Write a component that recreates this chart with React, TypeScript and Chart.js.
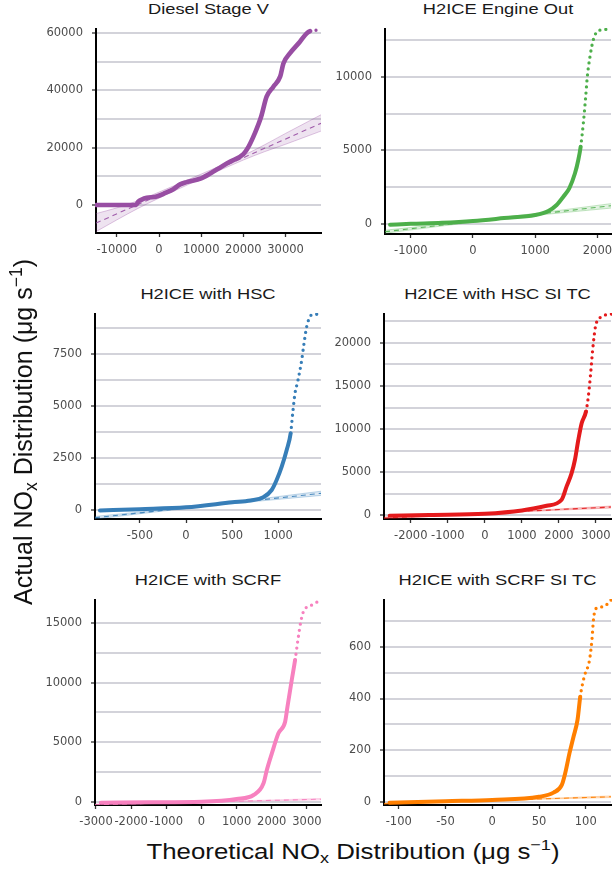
import React, { useEffect, useRef } from 'react';
import { Chart, registerables } from 'chart.js';
Chart.register(...registerables);

// ---------- data ----------
const panelTitles = ['Diesel Stage V', 'H2ICE Engine Out', 'H2ICE with HSC', 'H2ICE with HSC SI TC', 'H2ICE with SCRF', 'H2ICE with SCRF SI TC'];
const seriesColors = ['#984ea3', '#4daf4a', '#377eb8', '#e41a1c', '#f781bf', '#ff7f00'];

// Diesel Stage V
const dieselTheo = [-14900, -12000, -8000, -5400, -4900, -4100, -2900, -550, 1500, 3400, 5000, 6500, 10000, 12900, 16800, 20000, 21200, 22700, 24200, 25500, 27100, 28700, 29500, 31000, 33400, 35000, 35800, 37200, 38500];
const dieselActual = [0, 0, 0, 50, 1200, 1900, 2500, 3000, 4200, 5500, 7200, 8000, 9300, 11700, 15100, 17800, 20300, 25000, 30800, 37800, 41300, 44800, 49500, 52900, 57000, 59900, 60700, 61000, 61300];
const dieselRefX = [-14930, 38390];
const dieselRefY = [-6300, 28520];
const dieselBandX = [-14930, -10000, -5000, 0, 10000, 20000, 25000, 30000, 38390];
const dieselBandLo = [-9300, -5200, -1200, 2400, 9200, 15700, 18600, 21200, 25800];
const dieselBandHi = [-3000, -1000, 1500, 4500, 10800, 17300, 21000, 25000, 31500];

// H2ICE Engine Out
const engineTheo = [-1334, -1000, -500, 0, 500, 1000, 1211, 1345, 1452, 1548, 1640, 1693, 1731, 1774, 1812, 1838, 1881, 1934, 2015, 2203];
const engineActual = [-30, 30, 100, 223, 420, 630, 900, 1310, 1870, 2440, 3455, 4357, 5260, 6840, 8645, 10000, 11355, 12490, 13120, 13210];
const engineRefX = [-1415, 2219];
const engineRefY = [-500, 1260];
const engineBandX = [-1415, 400, 2219];
const engineBandLo = [-600, 340, 1100];
const engineBandHi = [-400, 420, 1400];

// H2ICE with HSC
const hscTheo = [-933, -500, 0, 500, 700, 838, 929, 983, 1038, 1092, 1135, 1157, 1182, 1211, 1255, 1280, 1309, 1363, 1471];
const hscActual = [-20, 40, 128, 368, 460, 608, 960, 1440, 2080, 2880, 3680, 4640, 5600, 6160, 7200, 8000, 8800, 9360, 9400];
const hscRefX = [-987, 1464];
const hscRefY = [-370, 800];
const hscBandX = [-987, 250, 1464];
const hscBandLo = [-430, 195, 700];
const hscBandHi = [-310, 245, 900];

// H2ICE with HSC SI TC
const hscSiTheo = [-2568, -1500, 0, 1000, 1667, 2072, 2207, 2342, 2432, 2523, 2613, 2730, 2793, 2856, 2910, 2991, 3153, 3423];
const hscSiActual = [-35, 60, 197, 580, 1120, 1815, 3360, 4900, 6450, 8760, 10690, 12040, 13770, 16480, 19180, 21990, 23030, 23345];
const hscSiRefX = [-2722, 3405];
const hscSiRefY = [-300, 970];
const hscSiBandX = [-2722, 300, 3405];
const hscSiBandLo = [-420, 290, 860];
const hscSiBandHi = [-180, 360, 1080];

// H2ICE with SCRF
const scrfTheo = [-2863, -1500, 0, 1000, 1483, 1766, 1860, 2003, 2190, 2381, 2447, 2569, 2664, 2758, 2826, 2900, 3138, 3400];
const scrfActual = [-30, 0, 50, 275, 610, 1585, 2700, 4090, 5760, 6730, 7980, 10210, 11880, 13830, 15080, 15910, 16470, 16890];
const scrfRefX = [-3030, 3400];
const scrfRefY = [-200, 260];
const scrfBandX = [-3030, 200, 3400];
const scrfBandLo = [-260, 20, 200];
const scrfBandHi = [-140, 45, 320];

// H2ICE with SCRF SI TC
const scrfSiTheo = [-109.8, -50, 0, 50, 65.5, 74.4, 78, 82.6, 86.9, 91.2, 94.1, 98.4, 104, 106.6, 108.4, 111.3, 119.1, 127];
const scrfSiActual = [-4, 2, 6.6, 19, 35, 65, 110, 188, 252, 317, 407, 485, 549, 627, 711, 750, 756, 782];
const scrfSiRefX = [-115.8, 127];
const scrfSiRefY = [-8, 19];
const scrfSiBandX = [-115.8, 5, 127];
const scrfSiBandLo = [-10, 5, 16];
const scrfSiBandHi = [-6, 6, 22];

// axis ranges and tick labels
const xRanges = [[-14930, 38390], [-1415, 2219], [-987, 1464], [-2722, 3405], [-3028, 3401], [-115.8, 127]];
const yRanges = [[-9770, 61430], [-657, 13230], [-432, 9405], [-417, 23345], [-225, 16890], [-13, 782]];
const xTickValues = [
  [-10000, 0, 10000, 20000, 30000],
  [-1000, 0, 1000, 2000],
  [-500, 0, 500, 1000],
  [-2000, -1000, 0, 1000, 2000, 3000],
  [-3000, -2000, -1000, 0, 1000, 2000, 3000],
  [-100, -50, 0, 50, 100],
];
const yMajorTicks = [
  [0, 20000, 40000, 60000],
  [0, 5000, 10000],
  [0, 2500, 5000, 7500],
  [0, 5000, 10000, 15000, 20000],
  [0, 5000, 10000, 15000],
  [0, 200, 400, 600],
];
const yMinorTicks = [
  [10000, 30000, 50000],
  [2500, 7500, 12500],
  [1250, 3750, 6250, 8750],
  [2500, 7500, 12500, 17500, 22500],
  [2500, 7500, 12500],
  [100, 300, 500, 700],
];

// ---------- styling / layout ----------
// plot-area boxes in page pixels: left, right, top, bottom
const boxes = [
  [96, 321, 29, 233],
  [385, 611, 29, 234],
  [95, 321, 314, 519],
  [384, 611, 314, 519],
  [95, 321, 600, 805],
  [384, 611, 600, 805],
];
const sparseFrom = [60700, 5200, 3600, 12000, 11800, 400];
const curveWidth = [4.6, 4, 4, 4, 4, 4];

const seriesTheo = [dieselTheo, engineTheo, hscTheo, hscSiTheo, scrfTheo, scrfSiTheo];
const seriesActual = [dieselActual, engineActual, hscActual, hscSiActual, scrfActual, scrfSiActual];
const refXs = [dieselRefX, engineRefX, hscRefX, hscSiRefX, scrfRefX, scrfSiRefX];
const refYs = [dieselRefY, engineRefY, hscRefY, hscSiRefY, scrfRefY, scrfSiRefY];
const bandXs = [dieselBandX, engineBandX, hscBandX, hscSiBandX, scrfBandX, scrfSiBandX];
const bandLos = [dieselBandLo, engineBandLo, hscBandLo, hscSiBandLo, scrfBandLo, scrfSiBandLo];
const bandHis = [dieselBandHi, engineBandHi, hscBandHi, hscSiBandHi, scrfBandHi, scrfSiBandHi];

const TICK_FONT = "'DejaVu Sans', 'Liberation Sans', sans-serif";
const TEXT_FONT = "'Liberation Sans', Arial, Helvetica, sans-serif";
const GRID = '#d3d3da';

function hexA(hex: string, a: number) {
  const n = parseInt(hex.slice(1), 16);
  return `rgba(${(n >> 16) & 255},${(n >> 8) & 255},${n & 255},${a})`;
}

const PAD_L = 60, PAD_T = 6, PAD_R = 3, PAD_B = 30;

function Panel({ i }: { i: number }) {
  const ref = useRef<HTMLCanvasElement | null>(null);
  const [L, R, T, B] = boxes[i];
  const W = R - L + PAD_L + PAD_R;
  const H = B - T + PAD_T + PAD_B;

  useEffect(() => {
    if (!ref.current) return;
    const color = seriesColors[i];
    const pts = seriesTheo[i].map((x, k) => ({ x, y: seriesActual[i][k] }));
    const refPts = refXs[i].map((x, k) => ({ x, y: refYs[i][k] }));
    const loPts = bandXs[i].map((x, k) => ({ x, y: bandLos[i][k] }));
    const hiPts = bandXs[i].map((x, k) => ({ x, y: bandHis[i][k] }));
    const isSparse = (ctx: any) => seriesActual[i][ctx.p0DataIndex] >= sparseFrom[i];
    const majors = yMajorTicks[i];
    const tickFont = { family: TICK_FONT, size: 11.5 };

    const chart = new Chart(ref.current, {
      type: 'scatter',
      data: {
        datasets: [
          {
            data: pts,
            showLine: true,
            borderColor: color,
            backgroundColor: color,
            borderWidth: curveWidth[i],
            pointRadius: 0,
            cubicInterpolationMode: 'monotone',
            borderCapStyle: 'round',
            borderJoinStyle: 'round',
            clip: 1,
            segment: {
              borderDash: (ctx: any) => (isSparse(ctx) ? [0, 6] : undefined),
              borderWidth: (ctx: any) => (isSparse(ctx) ? 3.3 : undefined),
            },
          } as any,
          {
            data: refPts,
            showLine: true,
            borderColor: hexA(color, 0.9),
            borderWidth: 1.1,
            borderDash: [5, 4],
            pointRadius: 0,
            clip: 0,
          } as any,
          {
            data: loPts,
            showLine: true,
            borderColor: hexA(color, 0.45),
            borderWidth: 0.7,
            pointRadius: 0,
            cubicInterpolationMode: 'monotone',
            fill: false,
            clip: 0,
          } as any,
          {
            data: hiPts,
            showLine: true,
            borderColor: hexA(color, 0.45),
            backgroundColor: hexA(color, 0.16),
            borderWidth: 0.7,
            pointRadius: 0,
            cubicInterpolationMode: 'monotone',
            fill: '-1',
            clip: 0,
          } as any,
        ],
      },
      options: {
        animation: false,
        responsive: false,
        events: [],
        layout: { padding: { top: PAD_T, right: PAD_R, left: 0, bottom: 0 } },
        plugins: { legend: { display: false }, tooltip: { enabled: false }, title: { display: false } },
        scales: {
          x: {
            type: 'linear',
            bounds: 'data',
            min: xRanges[i][0],
            max: xRanges[i][1],
            afterBuildTicks: (s: any) => {
              s.ticks = xTickValues[i].map((v) => ({ value: v }));
            },
            afterFit: (s: any) => {
              s.height = PAD_B;
              s.paddingLeft = 0;
              s.paddingRight = 0;
            },
            grid: { drawOnChartArea: false, drawTicks: true, tickLength: 4, tickColor: '#333333', tickWidth: 1.3 },
            border: { display: true, color: '#000000', width: 2 },
            ticks: {
              autoSkip: false,
              maxRotation: 0,
              minRotation: 0,
              padding: 6,
              color: '#4d4d4d',
              font: tickFont,
              callback: (v: any) => String(v),
            },
          },
          y: {
            type: 'linear',
            bounds: 'data',
            min: yRanges[i][0],
            max: yRanges[i][1],
            afterBuildTicks: (s: any) => {
              s.ticks = [...majors, ...yMinorTicks[i]].sort((a, b) => a - b).map((v) => ({ value: v }));
            },
            afterFit: (s: any) => {
              s.width = PAD_L;
              s.paddingTop = 0;
              s.paddingBottom = 0;
            },
            grid: {
              drawOnChartArea: true,
              drawTicks: true,
              color: GRID,
              lineWidth: 2,
              tickLength: 4,
              tickWidth: 1.3,
              tickColor: (c: any) => (c.tick && majors.includes(c.tick.value) ? '#333333' : 'rgba(0,0,0,0)'),
            },
            border: { display: true, color: '#000000', width: 2 },
            ticks: {
              autoSkip: false,
              padding: 9,
              color: '#4d4d4d',
              font: tickFont,
              callback: (v: any) => (majors.includes(v) ? String(v) : ''),
            },
          },
        },
      } as any,
    });
    return () => chart.destroy();
  }, [i]);

  return (
    <>
      <canvas
        ref={ref}
        width={W}
        height={H}
        style={{ position: 'absolute', left: L - PAD_L, top: T - PAD_T, width: W, height: H }}
      />
      <div
        style={{
          position: 'absolute',
          left: L,
          width: R - L,
          top: T - 28,
          height: 16,
          lineHeight: '16px',
          fontSize: 15.5,
          fontFamily: TEXT_FONT,
          textAlign: 'center',
          color: '#1a1a1a',
          whiteSpace: 'nowrap',
          transform: 'scaleX(1.18)',
        }}
      >
        {panelTitles[i]}
      </div>
    </>
  );
}

const subStyle: React.CSSProperties = { fontSize: '70%', verticalAlign: '-0.26em', lineHeight: 0 };
const supStyle: React.CSSProperties = { fontSize: '70%', verticalAlign: '0.57em', lineHeight: 0 };

export default function App() {
  return (
    <div
      style={{
        position: 'absolute',
        left: 0,
        top: 0,
        width: 614,
        height: 872,
        background: '#ffffff',
        overflow: 'hidden',
        fontFamily: TEXT_FONT,
        color: '#111111',
      }}
    >
      {[0, 1, 2, 3, 4, 5].map((i) => (
        <Panel key={i} i={i} />
      ))}
      <div
        style={{
          position: 'absolute',
          left: 352.5,
          top: 841,
          fontSize: 21.5,
          lineHeight: '22px',
          whiteSpace: 'nowrap',
          transform: 'translateX(-50%) scaleX(1.2)',
        }}
      >
        Theoretical NO<sub style={subStyle}>x</sub> Distribution (μg s<sup style={supStyle}>−1</sup>)
      </div>
      <div
        style={{
          position: 'absolute',
          left: 23.2,
          top: 432,
          fontSize: 25,
          lineHeight: '28px',
          whiteSpace: 'nowrap',
          transform: 'translate(-50%, -50%) rotate(-90deg)',
        }}
      >
        Actual NO<sub style={subStyle}>x</sub> Distribution (μg s<sup style={supStyle}>−1</sup>)
      </div>
    </div>
  );
}
